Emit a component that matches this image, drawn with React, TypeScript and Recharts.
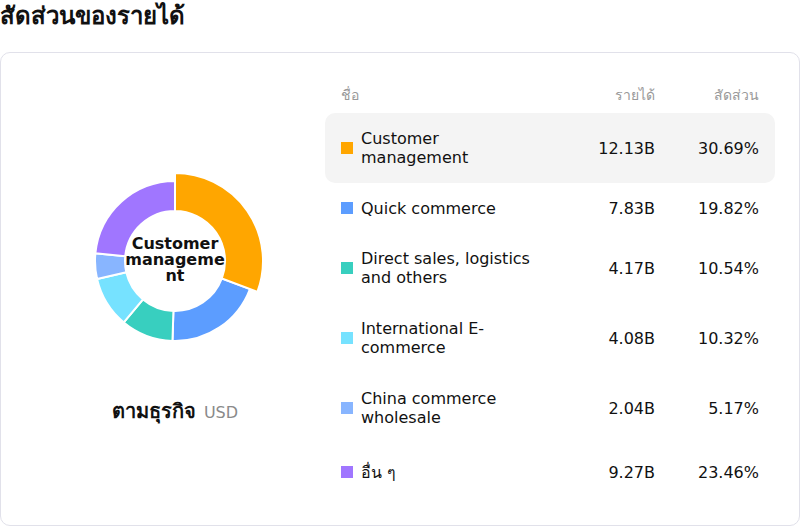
import React from "react";
import { PieChart, Pie, Cell } from "recharts";

const names = [
  "Customer management",
  "Quick commerce",
  "Direct sales, logistics and others",
  "International E-commerce",
  "China commerce wholesale",
  "อื่น ๆ",
];
const revenues = [12.13, 7.83, 4.17, 4.08, 2.04, 9.27];
const shares = ["30.69%", "19.82%", "10.54%", "10.32%", "5.17%", "23.46%"];
const colors = ["#FFA600", "#5C9DFF", "#38CFBF", "#76E2FF", "#88B5FF", "#A076FF"];
const twoLine = [true, false, true, true, true, false];

const data = names.map((name, i) => ({ name, value: revenues[i] }));

const FONT = "'DejaVu Sans', 'Noto Sans', sans-serif";

export default function App() {
  return (
    <div style={{ position: "absolute", left: 0, top: 0, width: 800, height: 526, fontFamily: FONT, color: "#111", background: "#fff" }}>
      <div style={{ position: "absolute", left: 0, top: 0, fontSize: 24, fontWeight: 700, lineHeight: "32px" }}>
        สัดส่วนของรายได้
      </div>
      <div style={{ position: "absolute", left: 0, top: 52, width: 798, height: 472, border: "1px solid #e1e1ea", borderRadius: 10 }} />
      <div style={{ position: "absolute", left: 0, top: 86, width: 350, height: 350 }}>
        <PieChart width={350} height={350} margin={{ top: 0, right: 0, bottom: 0, left: 0 }}>
          <Pie data={data} dataKey="value" nameKey="name" cx={175} cy={175} innerRadius={50} outerRadius={80}
            startAngle={90} endAngle={-270} stroke="#fff" strokeWidth={2} isAnimationActive={false}>
            {data.map((d, i) => <Cell key={i} fill={colors[i]} />)}
          </Pie>
          <Pie data={data} dataKey="value" nameKey="name" cx={175} cy={175} innerRadius={50} outerRadius={88}
            startAngle={90} endAngle={-270} isAnimationActive={false}>
            {data.map((d, i) => (
              <Cell key={i} fill={i === 0 ? colors[i] : "none"} stroke={i === 0 ? "#fff" : "none"} strokeWidth={2} />
            ))}
          </Pie>
        </PieChart>
      </div>
      <div style={{ position: "absolute", left: 123, top: 236, width: 104, textAlign: "center", fontWeight: 700, fontSize: 16, lineHeight: "16px", overflowWrap: "anywhere" }}>
        {names[0]}
      </div>
      <div style={{ position: "absolute", left: 0, top: 397, width: 350, textAlign: "center", lineHeight: "28px" }}>
        <span style={{ fontSize: 20, fontWeight: 700 }}>ตามธุรกิจ</span>
        <span style={{ fontSize: 16, color: "#8a8a8a", marginLeft: 8 }}>USD</span>
      </div>
      <div style={{ position: "absolute", left: 325, top: 84, width: 450 }}>
        <div style={{ display: "flex", height: 22, alignItems: "center", fontSize: 14, color: "#999" }}>
          <div style={{ width: 246, paddingLeft: 16, boxSizing: "border-box" }}>ชื่อ</div>
          <div style={{ width: 84, textAlign: "right" }}>รายได้</div>
          <div style={{ width: 104, textAlign: "right" }}>สัดส่วน</div>
        </div>
        <div style={{ height: 7 }} />
        {names.map((n, i) => (
          <div key={i} style={{ display: "flex", alignItems: "center", height: twoLine[i] ? 70 : i === 5 ? 58 : 50, background: i === 0 ? "#f4f4f4" : "transparent", borderRadius: 10, fontSize: 16, lineHeight: "19px" }}>
            <div style={{ width: 246, paddingLeft: 16, display: "flex", alignItems: "center", boxSizing: "border-box" }}>
              <div style={{ width: 12, height: 12, background: colors[i], flexShrink: 0 }} />
              <div style={{ width: 178, marginLeft: 8 }}>{n}</div>
            </div>
            <div style={{ width: 84, textAlign: "right" }}>{revenues[i].toFixed(2)}B</div>
            <div style={{ width: 104, textAlign: "right" }}>{shares[i]}</div>
          </div>
        ))}
      </div>
    </div>
  );
}
